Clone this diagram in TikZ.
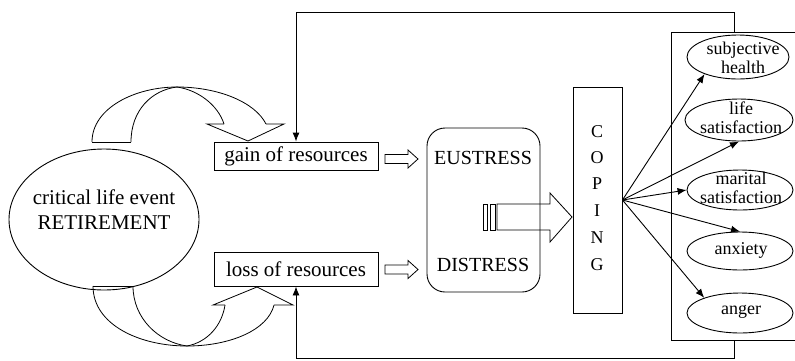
\documentclass[tikz,border=0pt]{standalone}
\usepackage{fontspec}
\setmainfont{Liberation Serif}
\usetikzlibrary{arrows.meta,shapes.geometric}
\begin{document}
\begin{tikzpicture}[x=1pt,y=-1pt,
  rbox/.style={draw,line width=0.9pt,inner sep=0pt},
  ell/.style={draw,ellipse,line width=0.9pt,inner sep=0pt},
  conn/.style={line width=0.9pt,-{Latex[length=9pt,width=7pt]}},
  blk/.style={line width=0.8pt,line join=miter},
  bigf/.style={font=\fontsize{21}{25}\selectfont},
  midf/.style={font=\fontsize{20}{24}\selectfont},
  copf/.style={font=\fontsize{18}{20}\selectfont},
  smallf/.style={font=\fontsize{18}{19}\selectfont,align=center,inner sep=0pt}]
\useasboundingbox (0,0) rectangle (795,360);

% critical life event
\node[ell,minimum width=190pt,minimum height=141pt] (ev) at (104,219.5) {};
\node[bigf,align=center,inner sep=0pt] (evt) at (104,210) {critical life event\\RETIREMENT};

% resources boxes
\node[rbox,bigf,minimum width=164pt,minimum height=28pt] (gain) at (296,156) {gain of resources};
\node[rbox,bigf,minimum width=164pt,minimum height=34pt] (loss) at (296,269) {loss of resources};

% stress box
\node[rbox,rounded corners=18pt,minimum width=113pt,minimum height=164pt] (stress) at (483.5,210) {};
\node[midf] (eu) at (483,158) {EUSTRESS};
\node[midf] (di) at (483,265) {DISTRESS};

% coping box
\node[rbox,minimum width=49pt,minimum height=226pt] (cop) at (597.5,200) {};
\node[copf] (c1) at (597,132) {C};
\node[copf] (c2) at (597,158) {O};
\node[copf] (c3) at (597,184) {P};
\node[copf] (c4) at (597,211) {I};
\node[copf] (c5) at (597,238) {N};
\node[copf] (c6) at (597,265) {G};

% outcomes box
\node[rbox,minimum width=135pt,minimum height=308pt] (out) at (738.5,186) {};

% outcome ellipses
\node[ell,minimum width=102pt,minimum height=44pt] (sh) at (738,57) {};
\node[ell,minimum width=108pt,minimum height=42pt] (ls) at (739,120) {};
\node[ell,minimum width=106pt,minimum height=40pt] (ms) at (740,190) {};
\node[ell,minimum width=106pt,minimum height=38pt] (ax) at (740,251) {};
\node[ell,minimum width=106pt,minimum height=40pt] (ag) at (740,313) {};
\node[smallf] (sht) at (743,58) {subjective\\health};
\node[smallf] (lst) at (741,118) {life\\satisfaction};
\node[smallf] (mst) at (741,187.5) {marital\\satisfaction};
\node[smallf] (axt) at (741,250) {anxiety};
\node[smallf] (agt) at (741,312) {anger};

% feedback connectors
\coordinate (tr) at (734,12);
\coordinate (br) at (734,358);
\draw[conn] (tr |- out.north) -- (tr) -- (tr -| gain) -- (gain.north);
\draw[conn] (br |- out.south) -- (br) -- (br -| loss) -- (loss.south);

% coping to outcomes
\draw[conn] (cop.east) -- (sh.207);
\draw[conn] (cop.east) -- (ls.south);
\draw[conn] (cop.east) -- (ms.west);
\draw[conn] (cop.east) -- (ax.north);
\draw[conn] (cop.east) -- (ag.157);

% small block arrows
\draw[blk] (385,154.5) -- (408,154.5) -- (408,150) -- (418,159) -- (408,168) -- (408,163.5) -- (385,163.5) -- cycle;
\draw[blk] (385,265) -- (408,265) -- (408,260.5) -- (418,269.5) -- (408,278.5) -- (408,274) -- (385,274) -- cycle;

% big block arrow
\draw[blk] (483,204) rectangle (487.5,230);
\draw[blk] (490,204) rectangle (495,230);
\draw[blk] (497,204) -- (550,204) -- (550,193) -- (572,217) -- (550,242) -- (550,230) -- (497,230) -- cycle;

% top curved arrow
\draw[blk] (92,142) -- (131,142);
\draw[blk] (92,142) .. controls (92,108) and (135,87) .. (177,87);
\draw[blk] (131,142) .. controls (131,110) and (152,90) .. (177,87);
\draw[blk] (177,87) .. controls (218,87) and (255,102) .. (266,124);
\draw[blk] (177,87) .. controls (198,90) and (218,105) .. (224,124);
\draw[blk] (224,124) -- (207,124) -- (248,141) -- (284,124) -- (266,124);

% bottom curved arrow
\draw[blk] (93,286) -- (133,286);
\draw[blk] (93,286) .. controls (93,325) and (140,346) .. (187,346);
\draw[blk] (133,286) .. controls (133,318) and (158,342) .. (187,346);
\draw[blk] (187,346) .. controls (230,346) and (268,330) .. (274,305);
\draw[blk] (187,346) .. controls (208,342) and (222,325) .. (225,305);
\draw[blk] (225,305) -- (213,305) -- (257,287) -- (293,305) -- (274,305);
\end{tikzpicture}
\end{document}
